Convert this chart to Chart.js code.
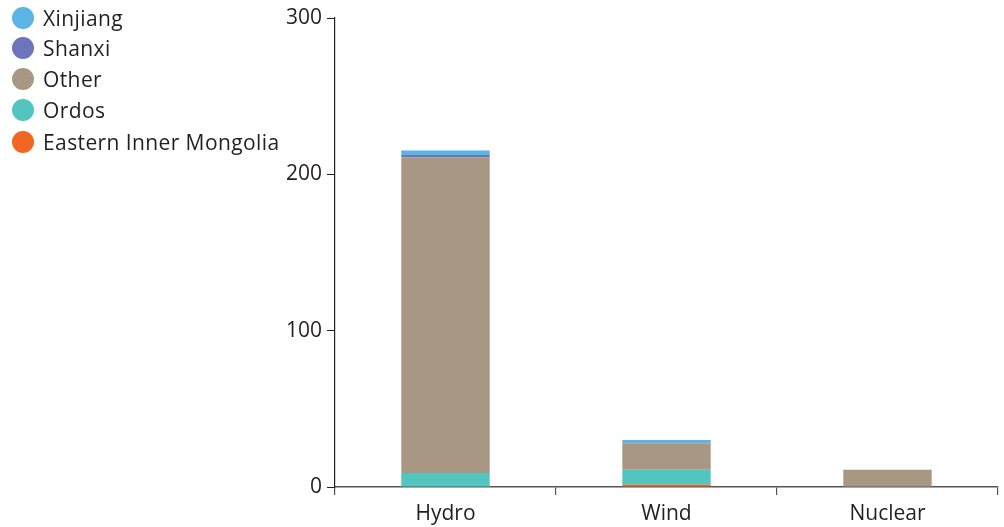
<!DOCTYPE html>
<html><head><meta charset="utf-8">
<script src="https://cdn.jsdelivr.net/npm/chart.js@4"></script>
<style>
html,body{margin:0;padding:0;background:#fff;}
#wrap{position:relative;width:1004px;height:527px;}
#legend{position:absolute;left:0;top:0;font-family:"Open Sans",Arial,sans-serif;font-size:21px;letter-spacing:0.4px;color:#231F20;}
.item{position:absolute;left:12px;height:24px;display:flex;align-items:center;white-space:nowrap;}
.dot{width:22px;height:22px;border-radius:50%;margin-right:9px;}
</style></head>
<body><div id="wrap"><canvas id="c" width="1004" height="527"></canvas><div id="legend"></div></div>
<script>
const categories = ["Hydro", "Wind", "Nuclear"];
const easternInnerMongolia = [0, 1.5, 0];
const ordos = [9, 9.5, 0];
const other = [202, 17, 11];
const shanxi = [1.3, 0, 0];
const xinjiang = [3, 2, 0];
const yTicks = [0, 100, 200, 300];

const series = [
  {label:"Eastern Inner Mongolia", data:easternInnerMongolia, color:"#F26522"},
  {label:"Ordos", data:ordos, color:"#53C5C1"},
  {label:"Other", data:other, color:"#A89883"},
  {label:"Shanxi", data:shanxi, color:"#6C75BB"},
  {label:"Xinjiang", data:xinjiang, color:"#5AB4E5"}
];

const legendEl = document.getElementById('legend');
const rowY = [18, 48, 79, 110, 142];
series.slice().reverse().forEach((s,i)=>{
  const d = document.createElement('div');
  d.className='item'; d.style.top=(rowY[i]-12)+'px';
  d.innerHTML = '<span class="dot" style="background:'+s.color+'"></span><span>'+s.label+'</span>';
  legendEl.appendChild(d);
});

const font = {family:"'Open Sans', Arial, sans-serif", size:21};
new Chart(document.getElementById('c'), {
  type:'bar',
  data:{labels:categories, datasets:series.map(s=>({label:s.label,data:s.data,backgroundColor:s.color,borderWidth:0,categoryPercentage:0.8,barPercentage:0.5}))},
  options:{
    responsive:false, animation:false,
    layout:{padding:{left:280,top:18,right:6,bottom:0}},
    plugins:{legend:{display:false},tooltip:{enabled:false}},
    scales:{
      x:{stacked:true,
        grid:{display:true,drawOnChartArea:false,offset:true,tickLength:8,color:'#555',lineWidth:1.2},
        border:{display:true,color:'#555',width:1.5},
        ticks:{color:'#231F20',font:font,padding:6},
        afterFit:(s)=>{s.height=40;}
      },
      y:{stacked:true,min:0,max:300,
        afterBuildTicks:(s)=>{s.ticks=yTicks.map(v=>({value:v}));},
        grid:{display:true,drawOnChartArea:false,tickLength:8,color:'#222',lineWidth:1},
        border:{display:true,color:'#222',width:1.2},
        ticks:{color:'#231F20',font:font,padding:5},
        afterFit:(s)=>{s.width=55;}
      }
    }
  }
});
</script></body></html>
